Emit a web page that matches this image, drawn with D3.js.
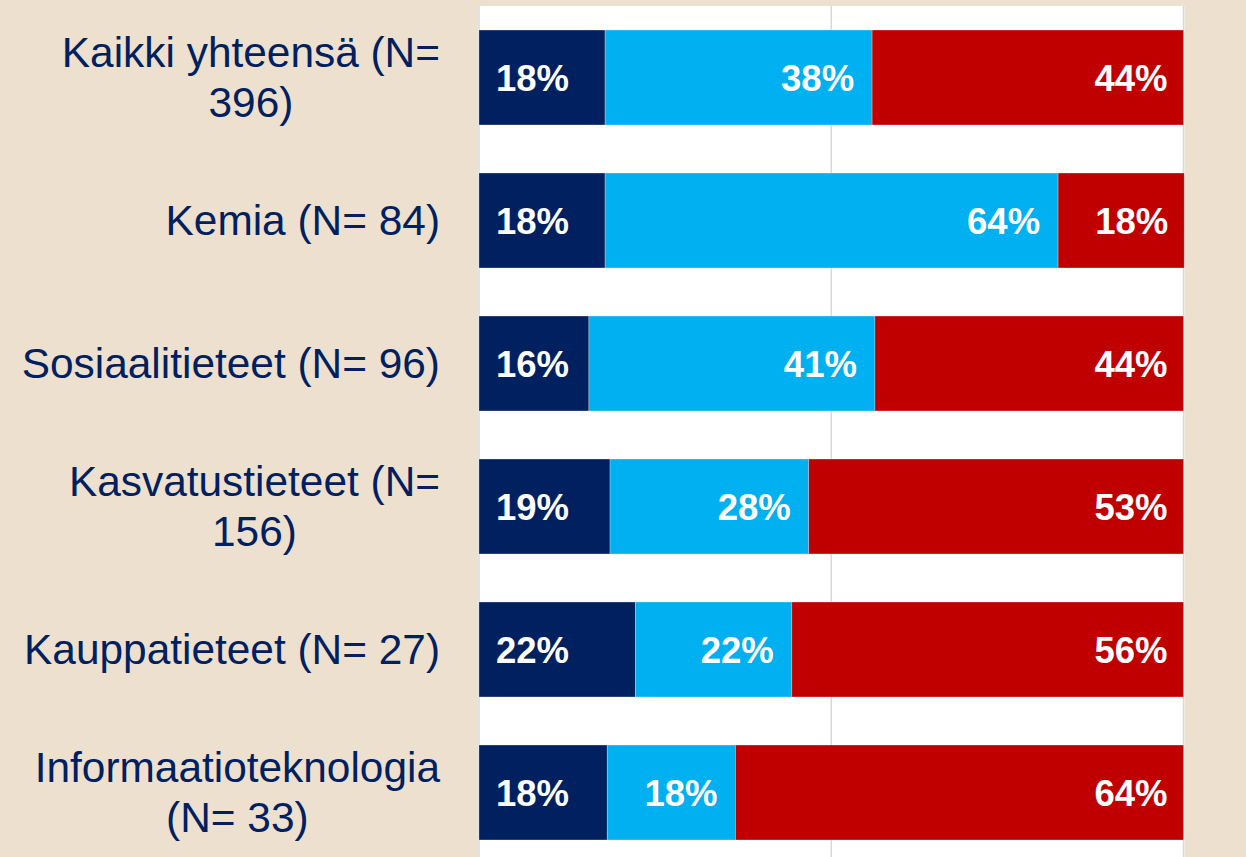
<!DOCTYPE html>
<html><head><meta charset="utf-8">
<script src="https://cdn.jsdelivr.net/npm/d3@7"></script>
<style>
html,body{margin:0;padding:0;background:#EDE0CE;}
svg{display:block;}
</style></head>
<body>
<script>
// Data
const categories = [
  ["Kaikki yhteensä (N=", "396)"],
  ["Kemia (N= 84)"],
  ["Sosiaalitieteet (N= 96)"],
  ["Kasvatustieteet (N=", "156)"],
  ["Kauppatieteet (N= 27)"],
  ["Informaatioteknologia", "(N= 33)"]
];
const series1 = [17.9, 17.9, 15.6, 18.6, 22.2, 18.2]; // navy
const series2 = [37.9, 64.3, 40.6, 28.2, 22.2, 18.2]; // light blue
const series3 = [44.2, 17.9, 43.8, 53.2, 55.6, 63.6]; // red
const series1Labels = ["18%", "18%", "16%", "19%", "22%", "18%"];
const series2Labels = ["38%", "64%", "41%", "28%", "22%", "18%"];
const series3Labels = ["44%", "18%", "44%", "53%", "56%", "64%"];
const gridTicks = [0, 50, 100];

const W = 1246, H = 857;
const colors = ["#002060", "#00B0F0", "#C00000"];
const seriesVals = [series1, series2, series3];
const seriesLabels = [series1Labels, series2Labels, series3Labels];

const svg = d3.select("body").append("svg").attr("width", W).attr("height", H);
svg.append("rect").attr("width", W).attr("height", H).attr("fill", "#EDE0CE");

const x = d3.scaleLinear().domain([0, 100]).range([479, 1183.5]);
const y = d3.scaleBand().domain(d3.range(categories.length)).range([6, 864])
  .paddingInner(0.336).paddingOuter(0.168);

// plot area
svg.append("rect").attr("x", x(0) - 1).attr("y", 6).attr("width", x(100) - x(0) + 2)
  .attr("height", H).attr("fill", "#FFFFFF");

// gridlines
svg.append("g").selectAll("line").data(gridTicks).join("line")
  .attr("x1", d => x(d)).attr("x2", d => x(d))
  .attr("y1", 6).attr("y2", H)
  .attr("stroke", "#D9D9D9").attr("stroke-width", 1.5);

// stacked data
const rows = categories.map((c, i) => {
  let acc = 0;
  return seriesVals.map((s, k) => {
    const d = {row: i, k, x0: acc, x1: acc + s[i], label: seriesLabels[k][i]};
    acc += s[i];
    return d;
  });
});
const segs = rows.flat();

svg.append("g").selectAll("rect").data(segs).join("rect")
  .attr("x", d => x(d.x0)).attr("width", d => x(d.x1) - x(d.x0))
  .attr("y", d => y(d.row)).attr("height", y.bandwidth())
  .attr("fill", d => colors[d.k])
  .attr("stroke", "#ffffff").attr("stroke-width", 0.75).attr("stroke-opacity", 0.35);

svg.append("g").selectAll("text").data(segs).join("text")
  .attr("x", d => d.k === 0 ? x(d.x0) + 17 : x(d.x1) - (d.k === 1 ? 18 : 16))
  .attr("y", d => y(d.row) + y.bandwidth() / 2)
  .attr("dy", "0.36em")
  .attr("text-anchor", d => d.k === 0 ? "start" : "end")
  .attr("font-family", "Liberation Sans, Arial, sans-serif")
  .attr("font-weight", "bold").attr("font-size", 36.5)
  .attr("fill", "#FFFFFF")
  .text(d => d.label);

// category labels (multi-line, center-aligned block right-aligned at 440)
const labelRight = 440;
const lineH = 50;
categories.forEach((lines, i) => {
  const cy = y(i) + y.bandwidth() / 2;
  const g = svg.append("g");
  const texts = lines.map((ln, j) => g.append("text")
    .attr("font-family", "Liberation Sans, Arial, sans-serif")
    .attr("font-size", 42.4).attr("fill", "#002060")
    .attr("y", cy + (j - (lines.length - 1) / 2) * lineH)
    .attr("dy", "0.35em")
    .text(ln));
  const widths = texts.map(t => t.node().getComputedTextLength());
  const maxW = d3.max(widths);
  const cx = labelRight - maxW / 2;
  texts.forEach(t => t.attr("x", cx).attr("text-anchor", "middle"));
});
</script>
</body></html>
